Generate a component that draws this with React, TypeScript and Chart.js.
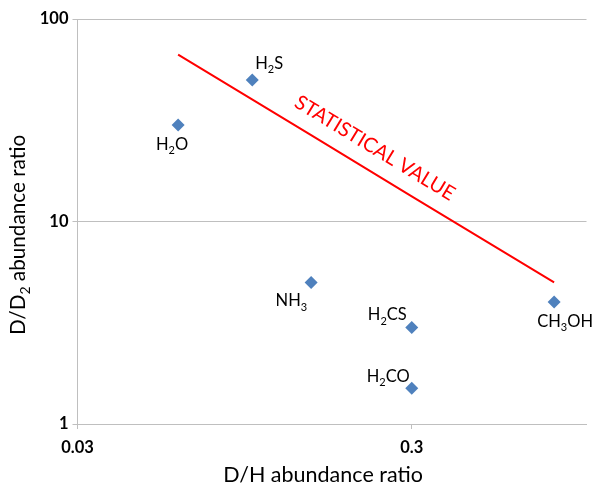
import React, { useEffect, useRef } from "react";
import { Chart, registerables } from "chart.js";

Chart.register(...registerables);

// Observed deuteration of molecules: D/H vs D/D2 abundance ratios
const species = ["H_2O", "H_2S", "NH_3", "H_2CS", "H_2CO", "CH_3OH"];
const dhRatio = [0.06, 0.1, 0.15, 0.3, 0.3, 0.8];
const ddRatio = [30, 50, 5, 3, 1.5, 4];

// Statistical expectation D/D2 = 4 / (D/H)
const statDH = [0.06, 0.15, 0.3, 0.8];
const statDD = [66.7, 26.7, 13.3, 5];
const statLabel = "STATISTICAL VALUE";
const statLabelAt = 0.215;

const xTicks = [0.03, 0.3];
const yTicks = [1, 10, 100];

const xTitle = "D/H abundance ratio";
const yTitle = "D/D_2 abundance ratio";

const FONT = "Lato, 'Open Sans', sans-serif";

// Where each species label sits relative to its marker
const labelPlacement: { align: "left" | "center" | "right"; dx: number; dy: number }[] = [
  { align: "center", dx: -6, dy: 25 },
  { align: "left", dx: 3, dy: -11 },
  { align: "right", dx: -4, dy: 24 },
  { align: "right", dx: -5, dy: -7 },
  { align: "right", dx: -2, dy: -6 },
  { align: "center", dx: 11, dy: 25 },
];

type Seg = { t: string; sub: boolean };

function parseRich(s: string): Seg[] {
  const out: Seg[] = [];
  let i = 0;
  let buf = "";
  while (i < s.length) {
    if (s[i] === "_" && i + 1 < s.length) {
      if (buf) out.push({ t: buf, sub: false });
      buf = "";
      out.push({ t: s[i + 1], sub: true });
      i += 2;
    } else {
      buf += s[i];
      i += 1;
    }
  }
  if (buf) out.push({ t: buf, sub: false });
  return out;
}

function drawRich(
  ctx: CanvasRenderingContext2D,
  s: string,
  x: number,
  y: number,
  align: "left" | "center" | "right",
  size: number,
  color: string
) {
  const segs = parseRich(s);
  const mainFont = `${size}px ${FONT}`;
  const subFont = `${Math.round(size * 0.68)}px ${FONT}`;
  let total = 0;
  const widths = segs.map((g) => {
    ctx.font = g.sub ? subFont : mainFont;
    const w = ctx.measureText(g.t).width;
    total += w;
    return w;
  });
  let cx = align === "left" ? x : align === "center" ? x - total / 2 : x - total;
  ctx.fillStyle = color;
  ctx.textAlign = "left";
  ctx.textBaseline = "alphabetic";
  segs.forEach((g, i) => {
    ctx.font = g.sub ? subFont : mainFont;
    ctx.fillText(g.t, cx, g.sub ? y + size * 0.25 : y);
    cx += widths[i];
  });
}

const annotationPlugin = {
  id: "annotations",
  afterDatasetsDraw(chart: any) {
    const ctx: CanvasRenderingContext2D = chart.ctx;
    const meta = chart.getDatasetMeta(0);
    const xs = chart.scales.x;
    const ys = chart.scales.y;
    const area = chart.chartArea;
    ctx.save();

    // species labels
    meta.data.forEach((pt: any, i: number) => {
      const p = labelPlacement[i];
      drawRich(ctx, species[i], pt.x + p.dx, pt.y + p.dy, p.align, 16.5, "#000000");
    });

    // label along the statistical line
    const x0 = xs.getPixelForValue(statDH[0]);
    const y0 = ys.getPixelForValue(statDD[0]);
    const x1 = xs.getPixelForValue(statDH[statDH.length - 1]);
    const y1 = ys.getPixelForValue(statDD[statDD.length - 1]);
    const ang = Math.atan2(y1 - y0, x1 - x0);
    const ax = xs.getPixelForValue(statLabelAt);
    const ay = ys.getPixelForValue(4 / statLabelAt);
    const off = 22;
    const cx = ax + Math.sin(ang) * off;
    const cy = ay - Math.cos(ang) * off;
    ctx.translate(cx, cy);
    ctx.rotate(ang);
    ctx.font = `20px ${FONT}`;
    ctx.fillStyle = "#FF0000";
    ctx.textAlign = "center";
    ctx.textBaseline = "middle";
    ctx.fillText(statLabel, 0, 0);
    ctx.setTransform(1, 0, 0, 1, 0, 0);

    // axis titles
    drawRich(ctx, xTitle, (area.left + area.right) / 2 - 9, 482, "center", 21.5, "#000000");
    ctx.translate(25, (area.top + area.bottom) / 2 + 13.5);
    ctx.rotate(-Math.PI / 2);
    drawRich(ctx, yTitle, 0, 0, "center", 20.7, "#000000");
    ctx.restore();
  },
};

export default function App() {
  const ref = useRef<HTMLCanvasElement | null>(null);

  useEffect(() => {
    if (!ref.current) return;
    const chart = new Chart(ref.current, {
      type: "scatter",
      data: {
        datasets: [
          {
            label: "observed",
            data: dhRatio.map((x, i) => ({ x, y: ddRatio[i] })),
            pointStyle: "rectRot",
            pointRadius: 6.5,
            pointHoverRadius: 6.5,
            backgroundColor: "#4F81BD",
            borderWidth: 0,
            showLine: false,
          },
          {
            label: "statistical",
            data: statDH.map((x, i) => ({ x, y: statDD[i] })),
            showLine: true,
            pointRadius: 0,
            borderColor: "#FF0000",
            borderWidth: 2,
            fill: false,
          },
        ],
      },
      options: {
        animation: false,
        responsive: false,
        layout: { padding: { top: 19, right: 5, left: 0, bottom: 0 } },
        plugins: { legend: { display: false }, tooltip: { enabled: false }, title: { display: false } },
        scales: {
          x: {
            type: "logarithmic",
            min: 0.03,
            max: 1,
            afterBuildTicks: (s: any) => {
              s.ticks = xTicks.map((v) => ({ value: v }));
            },
            afterFit: (s: any) => {
              s.height = 62;
            },
            grid: { drawOnChartArea: false, drawTicks: true, tickLength: 5, color: "#BFBFBF" },
            border: { display: true, color: "#BFBFBF", width: 1 },
            ticks: {
              autoSkip: false,
              maxRotation: 0,
              padding: 9,
              color: "#000000",
              font: { family: FONT, size: 16.5, weight: "bold" },
              callback: (v: any) => String(v),
            },
          },
          y: {
            type: "logarithmic",
            min: 1,
            max: 100,
            afterBuildTicks: (s: any) => {
              s.ticks = yTicks.map((v) => ({ value: v }));
            },
            afterFit: (s: any) => {
              s.width = 77.5;
            },
            grid: { drawOnChartArea: true, drawTicks: true, tickLength: 5, color: "#BFBFBF" },
            border: { display: true, color: "#BFBFBF", width: 1 },
            ticks: {
              autoSkip: false,
              padding: 4,
              color: "#000000",
              font: { family: FONT, size: 16.5, weight: "bold" },
              callback: (v: any) => String(v),
            },
          },
        },
      },
      plugins: [annotationPlugin],
    });
    return () => chart.destroy();
  }, []);

  return (
    <div style={{ position: "fixed", left: 0, top: 0, width: 593, height: 486, background: "#ffffff" }}>
      <canvas ref={ref} width={593} height={486} />
    </div>
  );
}
